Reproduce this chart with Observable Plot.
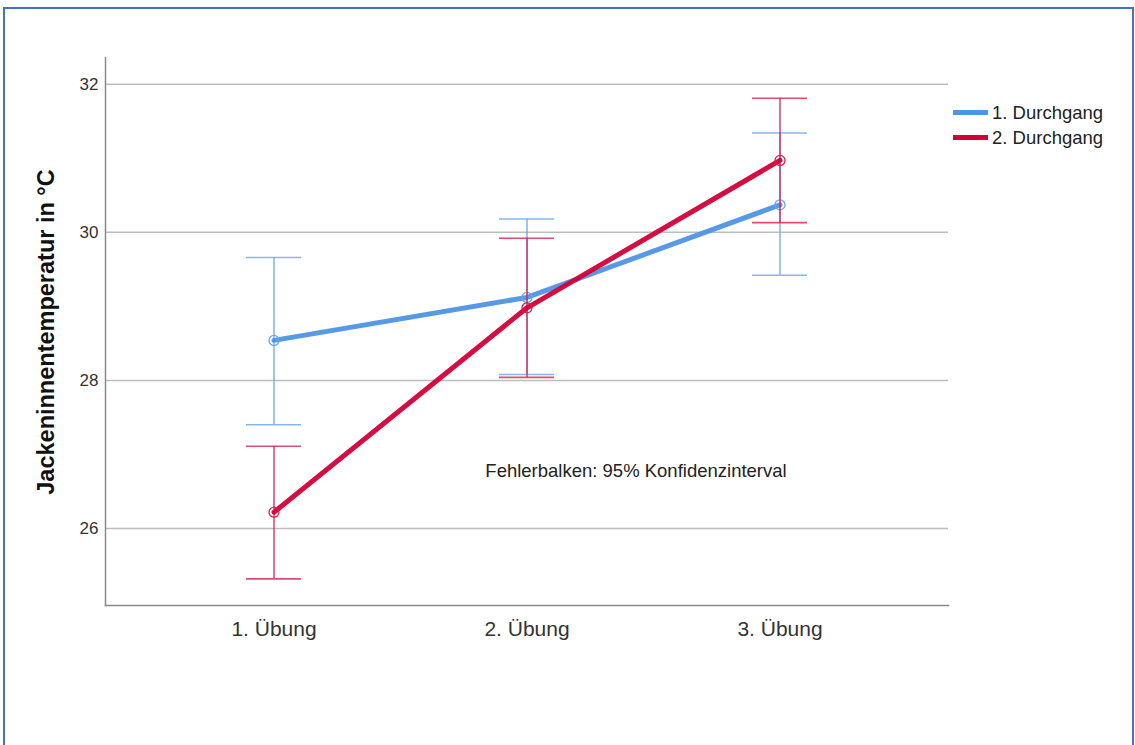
<!DOCTYPE html>
<html>
<head>
<meta charset="utf-8">
<script src="https://cdn.jsdelivr.net/npm/d3@7"></script>
<script src="https://cdn.jsdelivr.net/npm/@observablehq/plot@0.6"></script>
<style>
  html, body { margin: 0; padding: 0; background: #fff; width: 1135px; height: 745px; overflow: hidden; }
  #wrap { position: relative; width: 1135px; height: 745px; font-family: Arial, "Liberation Sans", sans-serif; }
  #frame { position: absolute; left: 3px; top: 7px; width: 1127px; height: 800px; border: 2px solid #4472C4; border-bottom: none; pointer-events: none; }
  #chart { position: absolute; left: 0; top: 0; }
  #legend { position: absolute; left: 953px; top: 100px; font-size: 18.5px; color: #222; line-height: 25px; }
  .item { display: flex; align-items: center; white-space: nowrap; }
  .sw { display: inline-block; width: 35px; height: 5px; margin-right: 4px; }
</style>
</head>
<body>
<div id="wrap">
  <div id="chart"></div>
  <div id="legend"></div>
  <div id="frame"></div>
</div>
<script>
// ---- data ----
const categories = ["1. Übung", "2. Übung", "3. Übung"];
const seriesNames = ["1. Durchgang", "2. Durchgang"];
const mean1 = [28.54, 29.12, 30.37];
const lower1 = [27.40, 28.08, 29.42];
const upper1 = [29.66, 30.18, 31.34];
const mean2 = [26.22, 28.98, 30.97];
const lower2 = [25.32, 28.04, 30.13];
const upper2 = [27.11, 29.92, 31.81];
const yTicks = [26, 28, 30, 32];
const yLabel = "Jackeninnentemperatur in °C";
const note = "Fehlerbalken: 95% Konfidenzinterval";

const colors = {"1. Durchgang": "#4F93E5", "2. Durchgang": "#D20038"};
const barColors = {"1. Durchgang": "#6AA5EC", "2. Durchgang": "#DA1E4C"};

const rows = [];
categories.forEach((c, i) => {
  rows.push({cat: c, series: seriesNames[0], mean: mean1[i], lo: lower1[i], hi: upper1[i]});
});
categories.forEach((c, i) => {
  rows.push({cat: c, series: seriesNames[1], mean: mean2[i], lo: lower2[i], hi: upper2[i]});
});

const marks = [
  Plot.gridY(yTicks, {stroke: "#bdbdbd", strokeOpacity: 1, strokeWidth: 1.5}),
  Plot.axisY({ticks: yTicks, tickSize: 0, tickPadding: 7, fontSize: 17, label: null, color: "#333"}),
  Plot.axisX({tickSize: 0, tickPadding: 16, fontSize: 21, label: null, color: "#333"}),
  Plot.frame({anchor: "left", stroke: "#8a8a8a", strokeWidth: 1.5}),
  Plot.frame({anchor: "bottom", stroke: "#8a8a8a", strokeWidth: 1.5}),
  Plot.text([note], {x: () => categories[1], y: () => 26.78, text: d => d, dx: 109, fontSize: 18.5, fill: "#222", textAnchor: "middle"})
];
for (const s of seriesNames) {
  const data = rows.filter(r => r.series === s);
  marks.push(
    Plot.ruleX(data, {x: "cat", y1: "lo", y2: "hi", stroke: barColors[s], strokeWidth: 1.6, strokeOpacity: 0.8}),
    Plot.tickY(data, {x: "cat", y: "lo", stroke: barColors[s], strokeWidth: 1.6, strokeOpacity: 0.8}),
    Plot.tickY(data, {x: "cat", y: "hi", stroke: barColors[s], strokeWidth: 1.6, strokeOpacity: 0.8}),
    Plot.line(data, {x: "cat", y: "mean", stroke: colors[s], strokeWidth: 5, strokeOpacity: 0.95}),
    Plot.dot(data, {x: "cat", y: "mean", r: 5, stroke: barColors[s], strokeWidth: 1.3, fill: "none"})
  );
}

const chart = Plot.plot({
  width: 1135,
  height: 745,
  marginLeft: 105,
  marginRight: 187,
  marginTop: 57,
  marginBottom: 140,
  style: {fontFamily: "Arial, 'Liberation Sans', sans-serif", background: "transparent"},
  x: {type: "band", domain: categories, paddingInner: 0.783, paddingOuter: 0.554, label: null},
  y: {domain: [24.96, 32.36], label: null},
  marks
});
document.getElementById("chart").appendChild(chart);

// y title
const yt = document.createElement("div");
yt.textContent = yLabel;
Object.assign(yt.style, {
  position: "absolute", left: "46px", top: "332px",
  transform: "translate(-50%, -50%) rotate(-90deg)",
  fontWeight: "bold", fontSize: "23.5px", color: "#111", whiteSpace: "nowrap"
});
document.getElementById("wrap").appendChild(yt);

// legend
const leg = document.getElementById("legend");
for (const s of seriesNames) {
  const it = document.createElement("div");
  it.className = "item";
  const sw = document.createElement("span");
  sw.className = "sw";
  sw.style.background = colors[s];
  const t = document.createElement("span");
  t.textContent = s;
  it.appendChild(sw); it.appendChild(t);
  leg.appendChild(it);
}
</script>
</body>
</html>
